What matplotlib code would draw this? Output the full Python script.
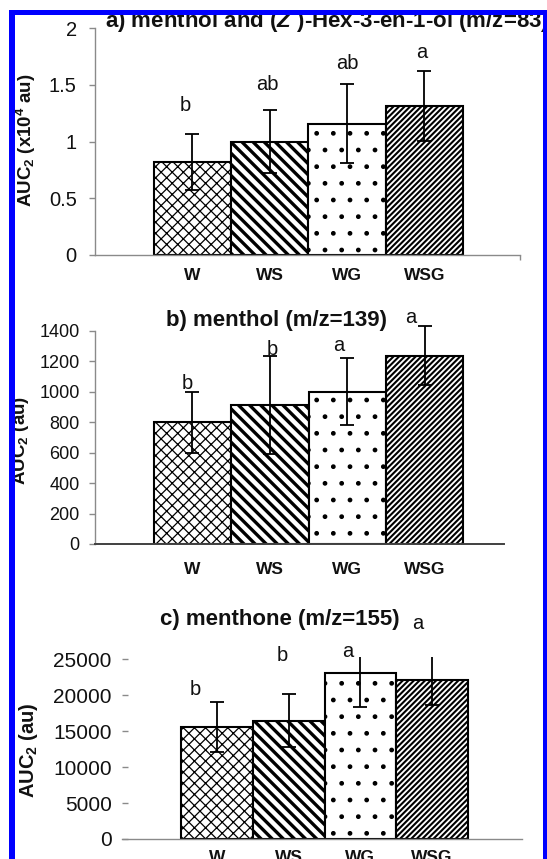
import matplotlib
matplotlib.use("Agg")
import matplotlib.pyplot as plt
from matplotlib.patches import Rectangle
import numpy as np

W_PX, H_PX, DPI = 547, 859, 100

plt.rcParams['font.family'] = ['Liberation Sans', 'DejaVu Sans']
plt.rcParams['mathtext.fontset'] = 'custom'
plt.rcParams['mathtext.rm'] = 'Liberation Sans:bold'
plt.rcParams['mathtext.bf'] = 'Liberation Sans:bold'
plt.rcParams['mathtext.it'] = 'Liberation Sans:italic:bold'
plt.rcParams['hatch.linewidth'] = 1.2

# --- data ---
groups = ["W", "WS", "WG", "WSG"]

a_means = [0.82, 1.00, 1.16, 1.315]
a_err = [0.25, 0.28, 0.35, 0.31]
a_letters = ["b", "ab", "ab", "a"]
a_letter_y = [1.32, 1.50, 1.69, 1.79]
a_yticks = [0, 0.5, 1, 1.5, 2]
a_yticklabels = ["0", "0.5", "1", "1.5", "2"]

b_means = [800, 912, 1000, 1236]
b_err = [200, 320, 220, 195]
b_letters = ["b", "b", "a", "a"]
b_letter_y = [1054, 1278, 1306, 1487]
b_yticks = [0, 200, 400, 600, 800, 1000, 1200, 1400]
b_yticklabels = [str(v) for v in b_yticks]

c_means = [15550, 16480, 23050, 22130]
c_err = [3500, 3720, 4630, 3470]
c_letters = ["b", "b", "a", "a"]
c_letter_y = [20740, 25460, 26065, 29907]
c_yticks = [0, 5000, 10000, 15000, 20000, 25000]
c_yticklabels = [str(v) for v in c_yticks]

# --- styling ---
hatches = ["xxx", "\\\\\\", ".", "//////"]
hatch_lws = [0.9, 2.4, 1.0, 1.5]

fig = plt.figure(figsize=(W_PX / DPI, H_PX / DPI), dpi=DPI)


def px_axes(left, top, right, bottom):
    return fig.add_axes([left / W_PX, 1 - bottom / H_PX,
                         (right - left) / W_PX, (bottom - top) / H_PX])


def fig_text(x, y, s, **kw):
    fig.text(x / W_PX, 1 - y / H_PX, s, **kw)


def draw_panel(ax, means, err, letters, letter_y, letter_dx, xlim, ylim,
               yticks, yticklabels, tick_fs, ytick_dir, ytick_pad,
               xlabel_pad, left_spine, bottom_color, bottom_lw, err_clip):
    x = np.arange(len(groups))
    bars = ax.bar(x, means, width=1.0, color="white", edgecolor="black",
                  linewidth=1.5, zorder=2)
    for bar, h, hlw in zip(bars, hatches, hatch_lws):
        bar.set_hatch(h)
        if hasattr(bar, "set_hatch_linewidth"):
            bar.set_hatch_linewidth(hlw)
    ax.errorbar(x, means, yerr=err, fmt="none", ecolor="black",
                elinewidth=1.3, capsize=4.7, capthick=1.3, zorder=3,
                clip_on=err_clip)
    for xi, dx, lab, ly in zip(x, letter_dx, letters, letter_y):
        ax.text(xi + dx, ly, lab, ha="center", va="center", fontsize=14.5,
                color="#111111", clip_on=False)

    ax.set_xlim(*xlim)
    ax.set_ylim(*ylim)
    ax.set_xticks(x, groups, fontsize=12.5, fontweight="bold")
    ax.tick_params(axis="x", length=0, pad=xlabel_pad, colors="#111111")
    ax.set_yticks(yticks, yticklabels, fontsize=tick_fs)
    ax.tick_params(axis="y", direction=ytick_dir, length=4.2, width=1.0,
                   color="#8a8a8a", pad=ytick_pad, labelcolor="#111111")

    for side in ("top", "right"):
        ax.spines[side].set_visible(False)
    ax.spines["left"].set_visible(left_spine)
    ax.spines["left"].set_color("#8a8a8a")
    ax.spines["left"].set_linewidth(1.0)
    ax.spines["bottom"].set_color(bottom_color)
    ax.spines["bottom"].set_linewidth(bottom_lw)
    ax.patch.set_alpha(0)


# panel a
ax_a = px_axes(94.5, 28.3, 520, 255)
draw_panel(ax_a, a_means, a_err, a_letters, a_letter_y,
           [-0.09, -0.03, 0.0, -0.03], (-1.266, 4.238), (0, 2),
           a_yticks, a_yticklabels, 14.5, "out", 8.6, 9.7,
           True, "#8a8a8a", 1.0, True)
ax_a.set_xticks([4.238], minor=True)
ax_a.tick_params(axis="x", which="minor", length=3.6, width=1.0,
                 color="#8a8a8a")

# panel b
ax_b = px_axes(95, 330.7, 503.5, 544)
draw_panel(ax_b, b_means, b_err, b_letters, b_letter_y,
           [-0.07, 0.03, -0.11, -0.18], (-1.26, 4.02), (0, 1400),
           b_yticks, b_yticklabels, 13, "out", 6.7, 13,
           True, "#404040", 1.4, False)

# panel c
ax_c = px_axes(122, 657.1, 522, 839)
draw_panel(ax_c, c_means, c_err, c_letters, c_letter_y,
           [-0.30, -0.09, -0.17, -0.19], (-1.33, 4.26), (0, 25300),
           c_yticks, c_yticklabels, 15, "in", 7.4, 8,
           False, "#8a8a8a", 1.0, True)

# titles
fig_text(105, 21.7, r"a) menthol and ($\mathit{Z}$ )-Hex-3-en-1-ol (m/z=83)",
         fontsize=16, fontweight="bold", ha="left", va="center",
         color="#111111")
fig_text(276, 320.7, "b) menthol (m/z=139)", fontsize=16, fontweight="bold",
         ha="center", va="center", color="#111111")
fig_text(280, 619.3, "c) menthone (m/z=155)", fontsize=16, fontweight="bold",
         ha="center", va="center", color="#111111")

# y labels
fig_text(26, 140, r"AUC$_\mathbf{2}$ (x10$^\mathbf{4}$ au)", fontsize=13.5,
         fontweight="bold", rotation=90, ha="center", va="center",
         color="#111111")
fig_text(20.5, 440, r"AUC$_\mathbf{2}$ (au)", fontsize=13.5, fontweight="bold",
         rotation=90, ha="center", va="center", color="#111111")
fig_text(28, 750, r"AUC$_\mathbf{2}$ (au)", fontsize=14.5, fontweight="bold",
         rotation=90, ha="center", va="center", color="#111111")

# blue frame
blue = "#0000ff"
for (x0, y0, x1, y1) in [(8.5, 10, 14.5, H_PX), (8.5, 10, W_PX, 14.5),
                         (543, 10, W_PX, H_PX)]:
    fig.add_artist(Rectangle((x0 / W_PX, 1 - y1 / H_PX), (x1 - x0) / W_PX,
                             (y1 - y0) / H_PX, transform=fig.transFigure,
                             facecolor=blue, edgecolor="none", zorder=10))

fig.savefig("out.png", dpi=DPI)
